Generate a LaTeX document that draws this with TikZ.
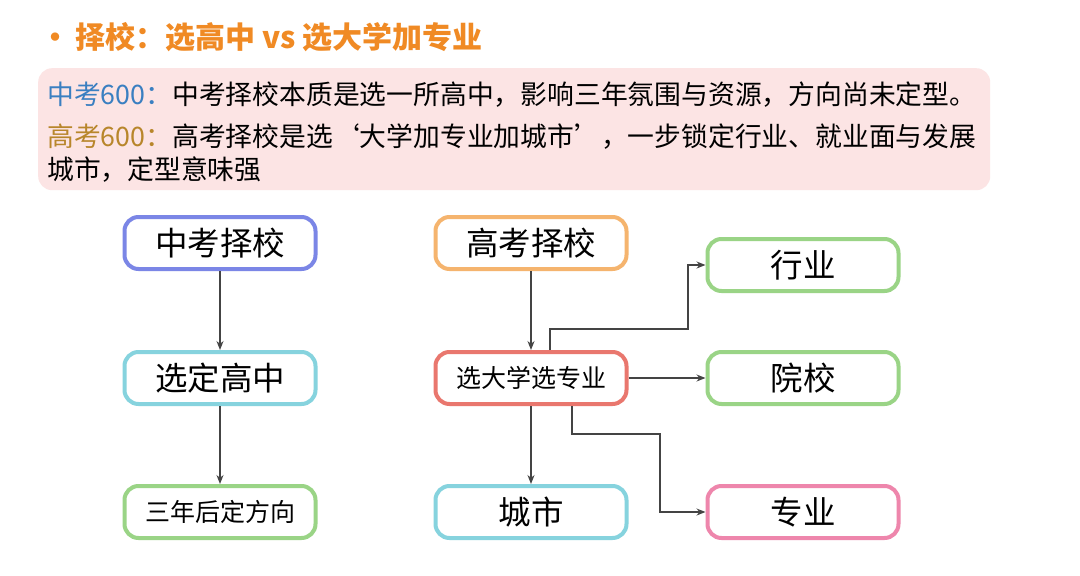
\documentclass[tikz,border=0pt]{standalone}
\usepackage{fontspec}
\setmainfont{Noto Sans CJK SC}
\usetikzlibrary{arrows.meta}
\definecolor{ttl}{HTML}{F08A24}
\definecolor{pinkbg}{HTML}{FCE4E4}
\definecolor{bl}{HTML}{3A7FC1}
\definecolor{gd}{HTML}{B8862B}
\definecolor{cP}{HTML}{7B86E6}
\definecolor{cC}{HTML}{86D3DE}
\definecolor{cG}{HTML}{9AD486}
\definecolor{cO}{HTML}{F5B46E}
\definecolor{cR}{HTML}{E9776E}
\definecolor{cK}{HTML}{EE86AC}
\definecolor{arr}{HTML}{444444}
\begin{document}
\begin{tikzpicture}[x=1pt,y=-1pt,
  box/.style={draw=#1,line width=4pt,rounded corners=14pt,fill=white,minimum width=191pt,minimum height=52pt,inner sep=0pt,font=\fontsize{32.5}{32.5}\selectfont},
  sm/.style={font=\fontsize{25}{25}\selectfont},
  ar/.style={draw=arr,line width=1.3pt,-{Stealth[length=9pt,width=7pt]}}]
\useasboundingbox (0,0) rectangle (1080,576);
\fill[white] (0,0) rectangle (1080,576);
\node[text=ttl,font=\fontsize{30}{30}\selectfont\bfseries,anchor=west,inner sep=0pt] (title) at (40,37) {·\,择校：选高中 vs 选大学加专业};
\node[fill=pinkbg,rounded corners=14pt,minimum width=952pt,minimum height=122pt,anchor=north west,inner sep=0pt] (bg) at (38,68) {};
\node[anchor=west,font=\fontsize{26.8}{26.8}\selectfont,inner sep=0pt] (l1) at (47,95) {\textcolor{bl}{中考600：}中考择校本质是选一所高中，影响三年氛围与资源，方向尚未定型。};
\node[anchor=west,font=\fontsize{26.8}{26.8}\selectfont,inner sep=0pt] (l2) at (47,137) {\textcolor{gd}{高考600：}高考择校是选‘大学加专业加城市’，一步锁定行业、就业面与发展};
\node[anchor=west,font=\fontsize{26.8}{26.8}\selectfont,inner sep=0pt] (l3) at (47,170) {城市，定型意味强};
\node[box=cP] (a1) at (220,243) {中考择校};
\node[box=cC] (a2) at (220,378) {选定高中};
\node[box=cG,sm] (a3) at (220,512) {三年后定方向};
\node[box=cO] (b1) at (531,243) {高考择校};
\node[box=cR,sm] (b2) at (531,378) {选大学选专业};
\node[box=cC] (b3) at (531,512) {城市};
\node[box=cG] (c1) at (803,265) {行业};
\node[box=cG] (c2) at (803,378) {院校};
\node[box=cK] (c3) at (803,512) {专业};
\draw[ar] (a1) -- (a2);
\draw[ar] (a2) -- (a3);
\draw[ar] (b1) -- (b2);
\draw[ar] (b2) -- (b3);
\draw[ar] (b2) -- (c2);
\draw[ar] (b2.north -| 550,0) |- (688,329) |- (c1.west);
\draw[ar] (b2.south -| 572,0) |- (660,434) |- (c3.west);
\end{tikzpicture}
\end{document}
